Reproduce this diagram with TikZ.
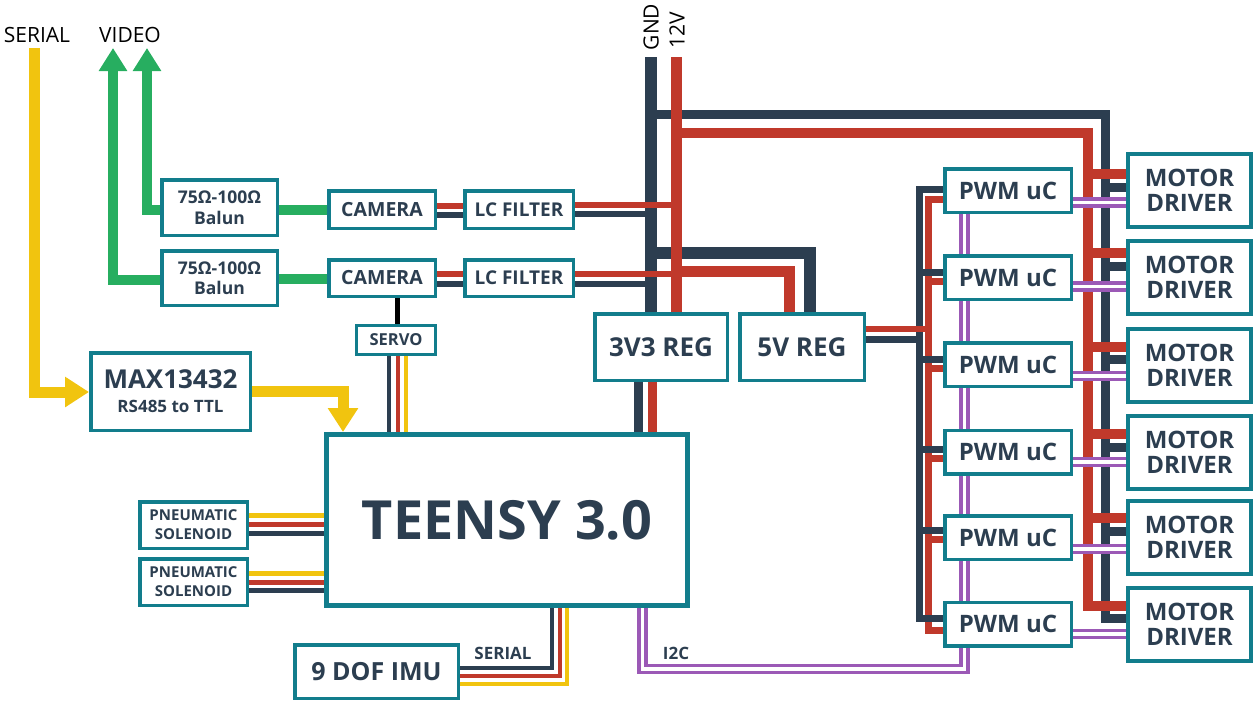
\documentclass[tikz,border=0pt]{standalone}
\usepackage{fontspec}
\setmainfont{Open Sans}
\usetikzlibrary{arrows.meta}
\definecolor{tealb}{HTML}{127D8C}
\definecolor{navy}{HTML}{2C3E50}
\definecolor{wred}{HTML}{C0392B}
\definecolor{wyel}{HTML}{F1C40F}
\definecolor{wgrn}{HTML}{27AE60}
\definecolor{wpur}{HTML}{9B59B6}
\pgfdeclarelayer{bg}
\pgfsetlayers{bg,main}
\tikzset{
  box/.style={draw=tealb, fill=white, line width=3.5pt, inner sep=0pt, text=navy, align=center},
  fs/.style={font=\bfseries\fontsize{#1}{#1}\selectfont},
  toplabel/.style={inner sep=0pt, text=black, font=\fontsize{21}{21}\selectfont},
  smalllab/.style={inner sep=0pt, text=navy, font=\bfseries\fontsize{17}{17}\selectfont},
  wnavy/.style={draw=navy, line width=#1},
  wredl/.style={draw=wred, line width=#1},
  wyell/.style={draw=wyel, line width=#1},
  wgreen/.style={draw=wgrn, line width=10pt},
  wpurple/.style={draw=wpur, double=white, line width=3.5pt, double distance=3.5pt},
  garrow/.style={-{Triangle[width=27pt,length=23pt]}},
  yarrow/.style={-{Triangle[width=29pt,length=24pt]}},
}
\begin{document}
\begin{tikzpicture}[x=1pt,y=-1pt]
\useasboundingbox (0,0) rectangle (1255,702);

% ---------- labels ----------
\node[toplabel] (serlab) at (37,35) {SERIAL};
\node[toplabel] (vidlab) at (130,35) {VIDEO};
\node[toplabel, rotate=90] (gndlab) at (651,27) {GND};
\node[toplabel, rotate=90] (v12lab) at (677,30) {12V};
\coordinate (serin) at (34,48);
\coordinate (vid1) at (113,48);
\coordinate (vid2) at (147,48);
\coordinate (gndtop) at (651,57);
\coordinate (v12top) at (676.5,57);

% ---------- boxes ----------
\node[box, fs=17.5, minimum width=115.5pt, minimum height=55.5pt] (bal1) at (219.5,207.5) {75Ω-100Ω\\[3pt]Balun};
\node[box, fs=17.5, minimum width=115.5pt, minimum height=54.5pt] (bal2) at (219.5,278) {75Ω-100Ω\\[3pt]Balun};
\node[box, fs=19.5, minimum width=106.5pt, minimum height=37.5pt] (cam1) at (382,209.5) {CAMERA};
\node[box, fs=19.5, minimum width=106.5pt, minimum height=36.5pt] (cam2) at (382,278) {CAMERA};
\node[box, fs=19, minimum width=108.5pt, minimum height=37.5pt] (lc1) at (519,209.5) {LC FILTER};
\node[box, fs=19, minimum width=108.5pt, minimum height=36.5pt] (lc2) at (519,278) {LC FILTER};
\node[box, fs=16.5, line width=3pt, minimum width=79pt, minimum height=29pt] (servo) at (396,340) {SERVO};
\node[box, font=\bfseries\fontsize{17}{24}\selectfont, minimum width=159.5pt, minimum height=77.5pt] (max) at (170.5,391.5)
  {{\fontsize{26}{26}\selectfont MAX13432}\\RS485 to TTL};
\node[box, fs=54, line width=5pt, minimum width=361pt, minimum height=171pt] (teensy) at (507,520) {TEENSY 3.0};
\node[box, fs=26, minimum width=132.5pt, minimum height=66.5pt] (reg3) at (661,347) {3V3 REG};
\node[box, fs=26, minimum width=124.5pt, minimum height=66.5pt] (reg5) at (802,347) {5V REG};
\node[box, fs=15, minimum width=107.5pt, minimum height=46.5pt] (pn1) at (193.5,525) {PNEUMATIC\\[4pt]SOLENOID};
\node[box, fs=15, minimum width=107.5pt, minimum height=46.5pt] (pn2) at (193.5,582) {PNEUMATIC\\[4pt]SOLENOID};
\node[box, fs=25, minimum width=163.5pt, minimum height=53.5pt] (imu) at (376.5,671.5) {9 DOF IMU};
\foreach \i/\y in {1/190.5, 2/277.5, 3/364.5, 4/452, 5/537.5, 6/624}{
  \node[box, fs=24, minimum width=126.5pt, minimum height=43.5pt] (pwm\i) at (1008,\y) {PWM uC};
}
\foreach \i/\y in {1/190.5, 2/277, 3/365, 4/452, 5/537, 6/624.5}{
  \node[box, fs=24, line width=4pt, minimum width=123pt, minimum height=73pt] (md\i) at (1189.5,\y) {MOTOR\\[1pt]DRIVER};
}
\node[smalllab] (imuser) at (503,653) {SERIAL};
\node[smalllab] (i2clab) at (676,653) {I2C};

% ---------- wires ----------
\begin{pgfonlayer}{bg}
% video
\draw[wgreen, garrow] (bal1.west |- 0,209.5) -- (147,209.5) -- (vid2);
\draw[wgreen, garrow] (bal2.west |- 0,280) -- (113,280) -- (vid1);
\draw[wgreen] (bal1.east |- 0,209.5) -- (cam1.west |- 0,209.5);
\draw[wgreen] (bal2.east |- 0,278.5) -- (cam2.west |- 0,278.5);
% serial
\draw[wyell=11pt, yarrow] (serin) -- (34,392) -- (max.west |- 0,392);
\draw[wyell=11pt, yarrow] (max.east |- 0,391) -- (343,391) -- (teensy.north -| 343,0);
% camera -> LC
\draw[wredl=6pt] (cam1.east |- 0,206) -- (lc1.west |- 0,206);
\draw[wnavy=6pt] (cam1.east |- 0,215) -- (lc1.west |- 0,215);
\draw[wredl=6pt] (cam2.east |- 0,274) -- (lc2.west |- 0,274);
\draw[wnavy=6pt] (cam2.east |- 0,283.5) -- (lc2.west |- 0,283.5);
% navy power
\draw[wnavy=9pt] (651,114.5) -- (1105,114.5) -- (1105,618.5) -- (md6.west |- 0,618.5);
\foreach \m/\n in {md1/187.5, md2/266.5, md3/359.5, md4/447.5, md5/531}{
  \draw[wnavy=9pt] (1105,\n) -- (\m.west |- 0,\n);
}
\draw[wnavy=12pt] (651,253) -- (810,253) -- (reg5.north -| 810,0);
\draw[wnavy=6pt] (lc1.east |- 0,214) -- (651,214);
\draw[wnavy=6pt] (lc2.east |- 0,283.7) -- (651,283.7);
\draw[wnavy=12pt] (gndtop) -- (reg3.north -| gndtop);
\draw[wnavy=9pt] (reg3.south -| 638.5,0) -- (teensy.north -| 638.5,0);
% red power
\draw[wredl=11pt] (v12top) -- (reg3.north -| v12top);
\draw[wredl=10pt] (676.5,132.5) -- (1088,132.5) -- (1088,606) -- (md6.west |- 0,606);
\foreach \m/\r in {md1/174, md2/253, md3/347, md4/434, md5/518}{
  \draw[wredl=10pt] (1088,\r) -- (\m.west |- 0,\r);
}
\draw[wredl=11pt] (676.5,271.5) -- (789,271.5) -- (reg5.north -| 789,0);
\draw[wredl=6pt] (lc1.east |- 0,205) -- (676.5,205);
\draw[wredl=6pt] (lc2.east |- 0,274) -- (676.5,274);
\draw[wredl=9pt] (reg3.south -| 652.5,0) -- (teensy.north -| 652.5,0);
% PWM supply buses
\draw[wredl=7pt] (pwm1.west |- 0,199.5) -- (928.5,199.5) -- (928.5,630) -- (pwm6.west |- 0,630);
\draw[wnavy=7pt] (pwm1.west |- 0,189) -- (919,189) -- (919,618) -- (pwm6.west |- 0,618);
\foreach \p/\n in {pwm2/272, pwm3/359, pwm4/449, pwm5/530.5}{
  \draw[wnavy=7pt] (919,\n) -- (\p.west |- 0,\n);
}
\draw[wnavy=6.5pt] (reg5.east |- 0,339.5) -- (919,339.5);
\foreach \p/\r in {pwm2/281, pwm3/368, pwm4/458, pwm5/539}{
  \draw[wredl=7pt] (928.5,\r) -- (\p.west |- 0,\r);
}
\draw[wredl=6.5pt] (reg5.east |- 0,329) -- (928.5,329);
% servo
\draw[line width=5pt, black] (cam2.south -| 397.5,0) -- (servo.north -| 397.5,0);
\draw[wnavy=4pt] (servo.south -| 389,0) -- (teensy.north -| 389,0);
\draw[wredl=4pt] (servo.south -| 398,0) -- (teensy.north -| 398,0);
\draw[wyell=4pt] (servo.south -| 406,0) -- (teensy.north -| 406,0);
% pneumatic
\draw[wyell=5pt] (pn1.east |- 0,515.5) -- (teensy.west |- 0,515.5);
\draw[wredl=5pt] (pn1.east |- 0,524.5) -- (teensy.west |- 0,524.5);
\draw[wnavy=5pt] (pn1.east |- 0,533.5) -- (teensy.west |- 0,533.5);
\draw[wyell=5pt] (pn2.east |- 0,573.5) -- (teensy.west |- 0,573.5);
\draw[wredl=5pt] (pn2.east |- 0,582) -- (teensy.west |- 0,582);
\draw[wnavy=5pt] (pn2.east |- 0,590.5) -- (teensy.west |- 0,590.5);
% IMU
\draw[wnavy=4.5pt] (imu.east |- 0,668) -- (552,668) -- (teensy.south -| 552,0);
\draw[wredl=4.5pt] (imu.east |- 0,676) -- (560,676) -- (teensy.south -| 560,0);
\draw[wyell=4.5pt] (imu.east |- 0,684) -- (567,684) -- (teensy.south -| 567,0);
% purple
\draw[wpurple] (teensy.south -| 642.5,0) -- (642.5,669) -- (964.5,669) -- (pwm1.south -| 964.5,0);
\foreach \i/\y in {1/202.5, 2/286.5, 3/376, 4/462, 5/549, 6/634}{
  \draw[wpurple] (pwm\i.east |- 0,\y) -- (md\i.west |- 0,\y);
}
\end{pgfonlayer}
\end{tikzpicture}
\end{document}
